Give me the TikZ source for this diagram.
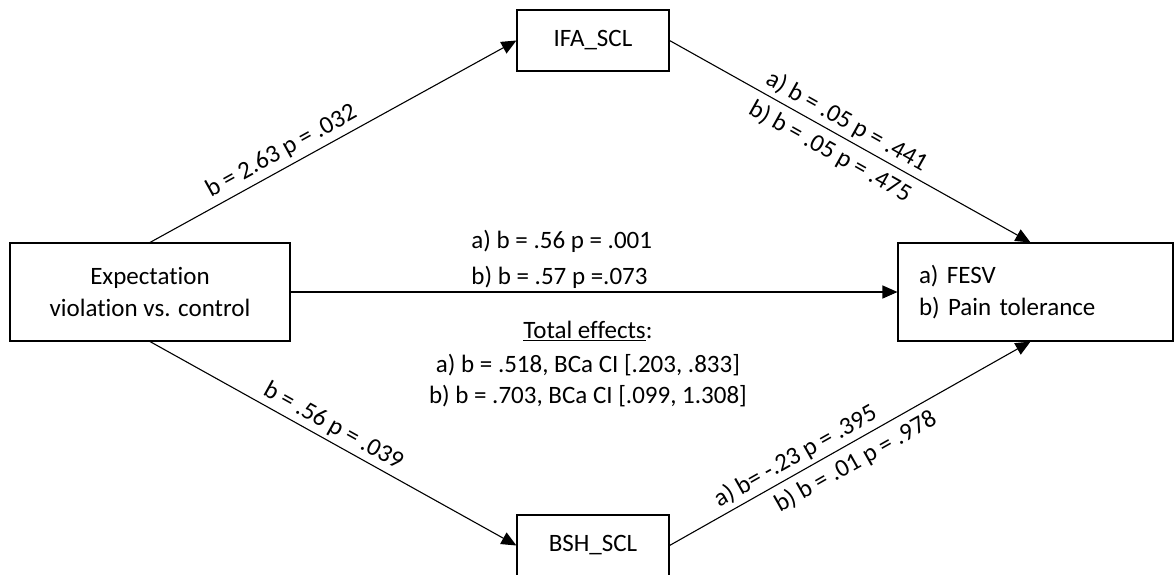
\documentclass[tikz,border=0pt]{standalone}
\usepackage{fontspec}
\setmainfont{Carlito}[Ligatures=NoCommon]
\usetikzlibrary{arrows.meta}

\begin{document}
\begin{tikzpicture}[x=1pt,y=-1pt,
  box/.style={draw,line width=1.1pt,inner sep=0pt},
  link/.style={line width=1.1pt,-{Triangle[length=15pt,width=13pt]}},
  every node/.append style={font=\fontsize{25}{32}\selectfont}]
  \useasboundingbox (0,0) rectangle (1174,574);
  % Predictor, mediators and outcome.
  \node[box,minimum width=280pt,minimum height=98pt,align=center] (ev) at (150,292) {Expectation\\violation vs. control};
  \node[box,minimum width=152pt,minimum height=61pt] (ifa) at (593,40.5) {IFA\_SCL};
  \node[box,minimum width=152pt,minimum height=61pt] (bsh) at (593,545.5) {BSH\_SCL};
  \node[box,minimum width=275pt,minimum height=98pt,text width=233pt,inner xsep=21pt,align=left] (fesv) at (1035.5,292) {a) FESV\\b) Pain tolerance};
  % Paths a via the two mediators.
  \draw[link] (ev.north) -- node[pos=.38,above,sloped,inner sep=5pt] {b = 2.63 p = .032} (ifa.west);
  \draw[link] (ev.south) -- node[pos=.48,above,sloped,inner sep=4pt] {b = .56 p = .039} (bsh.west);
  % Paths b from the mediators to the outcome.
  \draw[link] (ifa.east) --
    node[pos=.47,above,sloped,inner sep=4pt] {a) b = .05 p = .441}
    node[pos=.47,below,sloped,inner sep=7pt] {b) b = .05 p = .475} ([xshift=-5pt]fesv.north);
  \draw[link] (bsh.east) --
    node[pos=.37,above,sloped,inner sep=4pt] {a) b= -.23 p = .395}
    node[pos=.49,below,sloped,inner sep=7pt] {b) b = .01 p = .978} ([xshift=-5pt]fesv.south);
  % Direct path c' and total effects.
  \draw[link] (ev.east) --
    node[pos=.47,above,xshift=-14pt,align=left,inner sep=3pt] {a) b = .56 p = .001\\[4pt]b) b = .57 p =.073}
    node[pos=.49,below,align=center,inner sep=0pt,yshift=-29pt] {\underline{Total effects}:\\[2pt]a) b = .518, BCa CI [.203, .833]\\[-1pt]b) b = .703, BCa CI [.099, 1.308]} (fesv.west);
\end{tikzpicture}
\end{document}
